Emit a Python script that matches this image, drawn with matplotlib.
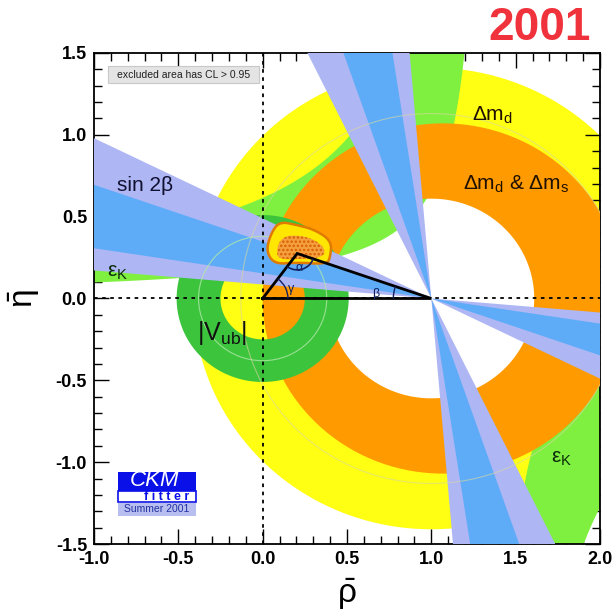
import numpy as np
import matplotlib.pyplot as plt
from matplotlib.path import Path
from matplotlib.patches import PathPatch, Rectangle, Arc, Polygon

plt.rcParams['font.family'] = ['Liberation Sans', 'DejaVu Sans']
plt.rcParams['mathtext.fontset'] = 'custom'
plt.rcParams['mathtext.rm'] = 'Liberation Sans'
plt.rcParams['mathtext.it'] = 'Liberation Sans'
plt.rcParams['hatch.linewidth'] = 1.2

# Constraint parameters in the (rho-bar, eta-bar) plane
vub_radii = (0.25, 0.51)                  # |Vub| ring around (0,0)
dmd_center, dmd_radii = 1.00, (0.64, 1.41)   # Delta m_d ring around (1,0)
dms_outer = (1.07, 1.07)                  # Delta m_d & Delta m_s: outer circle (centre, radius)
dms_inner = (1.00, 0.61)                  # inner hole (centre, radius)
epsk_pole = 1.35                          # eps_K hyperbola: eta * (pole - rho) = k
epsk_k = (0.23, 0.83)
sin2b_cl95 = (0.17, 0.79)
sin2b_cl68 = (0.30, 0.62)
apex = (0.205, 0.275)

# allowed region of the global fit around the apex
fit_outer = [(0.02, 0.29), (0.05, 0.40), (0.10, 0.47), (0.20, 0.45), (0.31, 0.42),
             (0.41, 0.35), (0.40, 0.25), (0.38, 0.21), (0.20, 0.22), (0.07, 0.21)]
fit_inner = [(0.08, 0.27), (0.10, 0.36), (0.17, 0.39), (0.29, 0.37), (0.37, 0.31),
             (0.36, 0.25), (0.20, 0.24), (0.11, 0.24)]

xticks = [-1.0, -0.5, 0.0, 0.5, 1.0, 1.5, 2.0]
yticks = [-1.5, -1.0, -0.5, 0.0, 0.5, 1.0, 1.5]

C_YELLOW = '#ffff14'
C_ORANGE = '#ff9a00'
C_EPSK = '#7ff03f'
C_VUB = '#3cc43c'
C_B95 = '#aeb6f4'
C_B68 = '#5eacf8'


def circle_pts(cx, cy, r, n=400, reverse=False):
    t = np.linspace(0, 2 * np.pi, n)
    if reverse:
        t = t[::-1]
    return np.column_stack([cx + r * np.cos(t), cy + r * np.sin(t)])


def ring(ax, c_out, r_out, c_in, r_in, color, z):
    outer = circle_pts(c_out[0], c_out[1], r_out)
    inner = circle_pts(c_in[0], c_in[1], r_in, reverse=True)
    verts = np.vstack([outer, inner])
    codes = ([Path.MOVETO] + [Path.LINETO] * (len(outer) - 2) + [Path.CLOSEPOLY]) * 2
    ax.add_patch(PathPatch(Path(verts, codes), fc=color, ec='none', zorder=z))


def wedge_band(ax, a1, a2, color, z):
    # band between two lines through (1,0) at angles a1, a2 (degrees), both directions
    L = 6.0
    for s in (1, -1):
        p1 = (1 + s * L * np.cos(np.radians(a1)), s * L * np.sin(np.radians(a1)))
        p2 = (1 + s * L * np.cos(np.radians(a2)), s * L * np.sin(np.radians(a2)))
        ax.add_patch(Polygon([(1, 0), p1, p2], closed=True, fc=color, ec='none', zorder=z))


def smooth(pts, n=5):
    pts = np.asarray(pts, float)
    for _ in range(n):
        nxt = np.roll(pts, -1, axis=0)
        q = 0.75 * pts + 0.25 * nxt
        r = 0.25 * pts + 0.75 * nxt
        out = np.empty((2 * len(pts), 2))
        out[0::2] = q
        out[1::2] = r
        pts = out
    return pts


fig = plt.figure(figsize=(6.15, 6.14), dpi=100)
ax = fig.add_axes([0.1528, 0.114, 0.8228, 0.7997])

# Delta m_d
ring(ax, (dmd_center, 0), dmd_radii[1], (dmd_center, 0), dmd_radii[0], C_YELLOW, 1)

# eps_K, both branches of the hyperbola
rho_up = np.linspace(-1.2, epsk_pole - 0.01, 600)
ax.fill_between(rho_up, epsk_k[0] / (epsk_pole - rho_up), epsk_k[1] / (epsk_pole - rho_up),
                color=C_EPSK, lw=0, zorder=2)
rho_dn = np.linspace(epsk_pole + 0.01, 2.2, 600)
ax.fill_between(rho_dn, -epsk_k[0] / (rho_dn - epsk_pole), -epsk_k[1] / (rho_dn - epsk_pole),
                color=C_EPSK, lw=0, zorder=2)

# Delta m_d & Delta m_s
ring(ax, (dms_outer[0], 0), dms_outer[1], (dms_inner[0], 0), dms_inner[1], C_ORANGE, 3)

# |Vub|
ring(ax, (0, 0), vub_radii[1], (0, 0), vub_radii[0], C_VUB, 4)

# sin 2beta: two solutions beta and 90-beta
for (lo, hi), col, z in [(sin2b_cl95, C_B95, 5), (sin2b_cl68, C_B68, 6)]:
    b_lo = 0.5 * np.degrees(np.arcsin(lo))
    b_hi = 0.5 * np.degrees(np.arcsin(hi))
    wedge_band(ax, 180 - b_hi, 180 - b_lo, col, z)
    wedge_band(ax, 90 + b_lo, 90 + b_hi, col, z)

# faint central contours
ax.add_patch(Arc((0, 0), 0.76, 0.76, color='#b0e8a8', lw=0.8, alpha=0.8, zorder=7))
ax.add_patch(Arc((1, 0), 2.26, 2.26, color='#d8d8a0', lw=0.8, alpha=0.6, zorder=7))

# global fit region
outer = smooth(fit_outer)
inner = smooth(fit_inner)
ax.add_patch(Polygon(outer, closed=True, fc='#ffe600', ec='#e07a00', lw=1.8, zorder=8))
ax.add_patch(Polygon(inner, closed=True, fc='#f5a040', ec='none', zorder=9))
ax.add_patch(Polygon(inner, closed=True, fc='none', ec='#d86000', lw=0, hatch='....', zorder=9))

# unitarity triangle
ax.plot([0, apex[0], 1, 0], [0, apex[1], 0, 0], color='black', lw=2.0, zorder=10,
        solid_joinstyle='miter')
ax.add_patch(Arc((0, 0), 0.3, 0.3, theta1=0, theta2=np.degrees(np.arctan2(apex[1], apex[0])),
                 color='#102060', lw=1.0, zorder=10))
a1 = np.degrees(np.arctan2(-apex[1], -apex[0]))
a2 = np.degrees(np.arctan2(-apex[1], 1 - apex[0]))
ax.add_patch(Arc(apex, 0.2, 0.2, theta1=a1, theta2=a2, color='#102060', lw=1.2, zorder=10))
ax.add_patch(Arc((1, 0), 0.45, 0.45, theta1=180 - np.degrees(np.arctan2(apex[1], 1 - apex[0])),
                 theta2=180, color='#102060', lw=1.0, zorder=10))
ax.text(0.17, 0.055, 'γ', fontsize=9, color='#102060', ha='center', va='center', zorder=11)
ax.text(0.215, 0.185, 'α', fontsize=9, color='#102060', ha='center', va='center', zorder=11)
ax.text(0.67, 0.03, 'β', fontsize=9, color='#102060', ha='center', va='center', zorder=11)

# axes through origin
ax.axvline(0, color='black', lw=1.3, ls=(0, (2, 2.5)), zorder=9)
ax.axhline(0, color='black', lw=1.3, ls=(0, (2, 2.5)), zorder=9)

# labels
ax.text(-0.70, 0.69, 'sin 2β', fontsize=15, ha='center', va='center', color='#101030', zorder=12)
ax.text(-0.86, 0.16, 'ε$_\\mathrm{K}$', fontsize=15, ha='center', va='center', color='#0a2a0a', zorder=12)
ax.text(1.77, -0.98, 'ε$_\\mathrm{K}$', fontsize=15, ha='center', va='center', color='#0a2a0a', zorder=12)
ax.text(1.36, 1.12, 'Δm$_\\mathrm{d}$', fontsize=15, ha='center', va='center', color='#201000', zorder=12)
ax.text(1.50, 0.70, 'Δm$_\\mathrm{d}$ & Δm$_\\mathrm{s}$', fontsize=15, ha='center', va='center',
        color='#201000', zorder=12)
ax.text(-0.24, -0.21, '|V$_\\mathrm{ub}$|', fontsize=18, ha='center', va='center', color='#101010', zorder=12)

# CL note
ax.add_patch(Rectangle((-0.915, 1.316), 0.895, 0.104, fc='#e4e4e4', ec='#c8c8c8', lw=0.8, zorder=12))
ax.text(-0.467, 1.368, 'excluded area has CL > 0.95', fontsize=7.5, ha='center', va='center',
        color='#202020', zorder=13)

# CKMfitter logo
ax.add_patch(Rectangle((-0.857, -1.176), 0.462, 0.117, fc='#0a10e8', ec='none', zorder=12))
ax.add_patch(Rectangle((-0.857, -1.243), 0.462, 0.067, fc='white', ec='#0a10e8', lw=1.2, zorder=12))
ax.add_patch(Rectangle((-0.857, -1.330), 0.462, 0.083, fc='#b8bef0', ec='none', zorder=12))
ax.text(-0.64, -1.112, 'CKM', fontsize=16, style='italic', color='white', ha='center', va='center', zorder=13)
ax.text(-0.57, -1.212, 'f i t t e r', fontsize=9, fontweight='bold', color='#0a10e8',
        ha='center', va='center', zorder=13)
ax.text(-0.626, -1.288, 'Summer 2001', fontsize=7.5, color='#2030a0', ha='center', va='center', zorder=13)

ax.set_xlim(-1.0, 2.0)
ax.set_ylim(-1.5, 1.5)
ax.set_xticks(xticks)
ax.set_yticks(yticks)
ax.set_xticklabels([f'{v:.1f}' for v in xticks])
ax.set_yticklabels([f'{v:.1f}' for v in yticks])
ax.set_xticks(np.arange(-1.0, 2.01, 0.1), minor=True)
ax.set_yticks(np.arange(-1.5, 1.51, 0.1), minor=True)
ax.tick_params(which='both', direction='in', top=True, right=True, width=1.0)
ax.tick_params(which='major', length=11, labelsize=13, pad=5)
ax.tick_params(which='minor', length=5.5)
for lab in ax.get_xticklabels() + ax.get_yticklabels():
    lab.set_fontweight('bold')
for sp in ax.spines.values():
    sp.set_linewidth(1.3)

ax.set_xlabel('$\\bar{\\rho}$', fontsize=24, labelpad=6)
ax.set_ylabel('$\\bar{\\eta}$', fontsize=24, labelpad=10)

fig.text(0.878, 0.955, '2001', fontsize=33, fontweight='bold', color='#f0323c', ha='center', va='center')

fig.savefig('out.png', dpi=100)
